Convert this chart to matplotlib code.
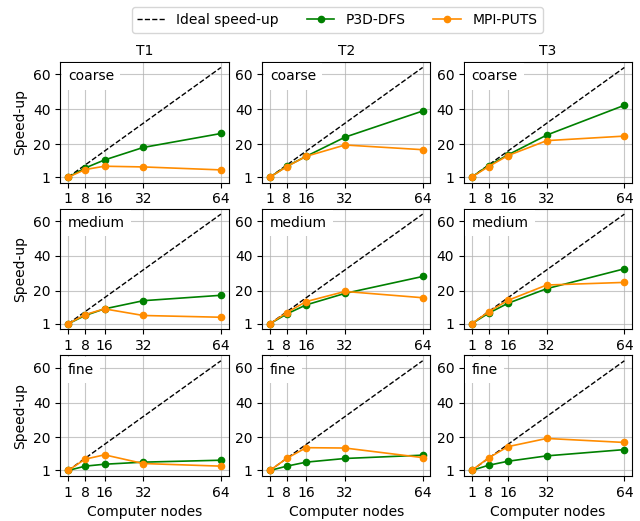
import matplotlib
matplotlib.use("Agg")
import matplotlib.pyplot as plt

nodes = [1, 8, 16, 32, 64]
cases = ["T1", "T2", "T3"]
grids = ["coarse", "medium", "fine"]

# P3D-DFS speed-up [grid][case]
p3d_coarse_T1 = [1, 6.3, 10.9, 18.1, 26.1]
p3d_coarse_T2 = [1, 7.3, 13.0, 24.0, 39.0]
p3d_coarse_T3 = [1, 7.7, 13.8, 25.2, 42.3]
p3d_medium_T1 = [1, 5.8, 9.6, 14.3, 17.4]
p3d_medium_T2 = [1, 6.7, 11.9, 18.5, 28.2]
p3d_medium_T3 = [1, 7.1, 12.8, 21.2, 32.6]
p3d_fine_T1 = [1, 3.5, 4.6, 5.8, 6.9]
p3d_fine_T2 = [1, 3.5, 5.8, 7.9, 9.8]
p3d_fine_T3 = [1, 4.0, 6.3, 9.4, 13.0]

# MPI-PUTS speed-up
mpi_coarse_T1 = [1, 5.4, 7.3, 6.9, 5.2]
mpi_coarse_T2 = [1, 7.1, 13.0, 19.5, 16.8]
mpi_coarse_T3 = [1, 7.1, 13.4, 22.0, 24.6]
mpi_medium_T1 = [1, 6.3, 9.6, 5.8, 4.8]
mpi_medium_T2 = [1, 7.5, 13.8, 19.6, 16.0]
mpi_medium_T3 = [1, 7.9, 14.5, 23.3, 24.8]
mpi_fine_T1 = [1, 7.5, 10.0, 5.0, 3.5]
mpi_fine_T2 = [1, 8.0, 14.1, 13.9, 8.4]
mpi_fine_T3 = [1, 8.2, 14.7, 19.4, 17.1]

p3d = [[p3d_coarse_T1, p3d_coarse_T2, p3d_coarse_T3],
       [p3d_medium_T1, p3d_medium_T2, p3d_medium_T3],
       [p3d_fine_T1, p3d_fine_T2, p3d_fine_T3]]
mpi = [[mpi_coarse_T1, mpi_coarse_T2, mpi_coarse_T3],
       [mpi_medium_T1, mpi_medium_T2, mpi_medium_T3],
       [mpi_fine_T1, mpi_fine_T2, mpi_fine_T3]]

yticks = [1, 20, 40, 60]

fig, axes = plt.subplots(3, 3, figsize=(6.4, 5.21), dpi=100)
fig.subplots_adjust(left=0.0945, right=0.9875, top=0.881, bottom=0.0864,
                    wspace=0.2, hspace=0.215)

for i, g in enumerate(grids):
    for j, c in enumerate(cases):
        ax = axes[i, j]
        ax.grid(True, color="#b0b0b0", linewidth=0.8, alpha=0.7)
        ax.set_axisbelow(True)
        l1, = ax.plot(nodes, nodes, "--", color="black", linewidth=1.0, label="Ideal speed-up")
        l2, = ax.plot(nodes, p3d[i][j], "-o", color="green", linewidth=1.2, markersize=4.5, label="P3D-DFS")
        l3, = ax.plot(nodes, mpi[i][j], "-o", color="darkorange", linewidth=1.2, markersize=4.5, label="MPI-PUTS")
        ax.set_xticks(nodes)
        ax.set_yticks(yticks)
        ax.text(0.045, 0.88, g, transform=ax.transAxes, fontsize=10, va="center", ha="left",
                bbox=dict(facecolor="white", edgecolor="none", boxstyle="square,pad=0.45"))
        if i == 0:
            ax.set_title(c, fontsize=10, pad=5)
        if j == 0:
            ax.set_ylabel("Speed-up", fontsize=10)
        if i == 2:
            ax.set_xlabel("Computer nodes", fontsize=10)

fig.legend(handles=[l1, l2, l3], loc="upper center", bbox_to_anchor=(0.527, 0.999),
           ncol=3, fontsize=10, frameon=True)

fig.savefig("out.png", dpi=100)
